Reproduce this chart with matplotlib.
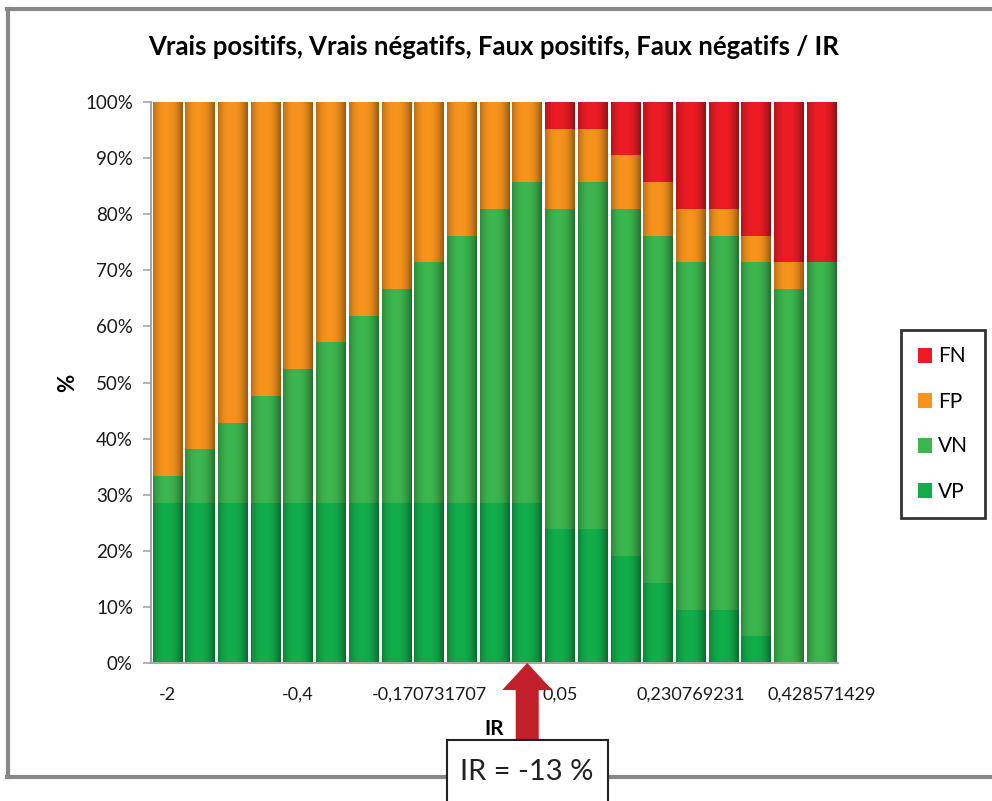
import numpy as np
import matplotlib
matplotlib.use("Agg")
import matplotlib.pyplot as plt
from matplotlib.patches import Patch, Rectangle, Polygon
from matplotlib.lines import Line2D
from matplotlib.colors import to_rgb

plt.rcParams['font.family'] = ['Lato', 'DejaVu Sans']

# ---- data (counts out of 21 cases per IR threshold) ----
vp = [6, 6, 6, 6, 6, 6, 6, 6, 6, 6, 6, 6, 5, 5, 4, 3, 2, 2, 1, 0, 0]
vn = [1, 2, 3, 4, 5, 6, 7, 8, 9, 10, 11, 12, 12, 13, 13, 13, 13, 14, 14, 14, 15]
fp = [14, 13, 12, 11, 10, 9, 8, 7, 6, 5, 4, 3, 3, 2, 2, 2, 2, 1, 1, 1, 0]
fn = [0, 0, 0, 0, 0, 0, 0, 0, 0, 0, 0, 0, 1, 1, 2, 3, 4, 4, 5, 6, 6]
tick_positions = [0, 4, 8, 12, 16, 20]
tick_labels = ['-2', '-0,4', '-0,170731707', '0,05', '0,230769231', '0,428571429']
series_names = ['VP', 'VN', 'FP', 'FN']
series_colors = ['#12ad4b', '#3cb64e', '#f7941d', '#ed1c24']
ir_index = 11
ir_text = 'IR = -13 %'

vp = np.array(vp, float); vn = np.array(vn, float)
fp = np.array(fp, float); fn = np.array(fn, float)
total = vp + vn + fp + fn
series = [vp / total * 100, vn / total * 100, fp / total * 100, fn / total * 100]

W, H = 992, 801
fig = plt.figure(figsize=(W / 100, H / 100), dpi=100)
ax = fig.add_axes([151 / W, (H - 663) / H, (838 - 151) / W, (663 - 102) / H])

x = np.arange(len(vp))
bottom = np.zeros(len(vp))
t = np.linspace(0, 1, 64)
shade = 1 - 0.40 * np.abs((t - 0.45) / 0.55) ** 2.4
shade = np.clip(shade, 0.6, 1.0)
for vals, col in zip(series, series_colors):
    bars = ax.bar(x, vals, width=0.9, bottom=bottom, color=col, linewidth=0, zorder=2)
    rgb = np.array(to_rgb(col))
    grad = np.clip(shade[:, None] * rgb[None, :], 0, 1)[None, :, :]
    for b in bars:
        if b.get_height() <= 0:
            continue
        bx, by = b.get_x(), b.get_y()
        ax.imshow(grad, extent=(bx, bx + b.get_width(), by, by + b.get_height()),
                  aspect='auto', interpolation='bilinear', zorder=3)
    bottom = bottom + vals
ax.set_xlim(-0.5, 20.5)
ax.set_ylim(0, 100)

for s in ['top', 'right']:
    ax.spines[s].set_visible(False)
for s in ['left', 'bottom']:
    ax.spines[s].set_color('#a6a6a6')
    ax.spines[s].set_linewidth(1.5)
    ax.spines[s].set_zorder(4)
ax.set_yticks(np.arange(0, 101, 10))
ax.set_yticklabels([f'{v}%' for v in range(0, 101, 10)])
ax.tick_params(axis='y', length=6, width=1.2, color='#a6a6a6', pad=7, labelsize=13.5, labelcolor='#1a1a1a')
ax.set_xticks(tick_positions)
ax.set_xticklabels(tick_labels)
ax.tick_params(axis='x', length=0, pad=17, labelsize=13, labelcolor='#1a1a1a')

ax.set_ylabel('%', fontsize=16, fontweight='bold', labelpad=5)
ax.set_xlabel('IR', fontsize=15, fontweight='bold', labelpad=12)

fig.text(494 / W, (H - 47) / H, 'Vrais positifs, Vrais négatifs, Faux positifs, Faux négatifs / IR',
         ha='center', va='center', fontsize=18.5, fontweight='bold')

# legend
handles = [Patch(facecolor=c, edgecolor='none') for c in series_colors][::-1]
leg = fig.legend(handles, series_names[::-1], loc='center', bbox_to_anchor=(943 / W, (H - 424) / H),
                 frameon=True, fancybox=False, fontsize=15, handlelength=0.7, handleheight=0.7,
                 handletextpad=0.3, labelspacing=1.2, borderpad=0.8, borderaxespad=0)
leg.get_frame().set_edgecolor('black')
leg.get_frame().set_linewidth(2)

# outer border
bc = '#888888'
fig.add_artist(Line2D([8 / W, 8 / W], [(H - 777) / H, (H - 9) / H], color=bc, lw=3, transform=fig.transFigure))
fig.add_artist(Line2D([6.5 / W, 1.0], [(H - 9) / H, (H - 9) / H], color=bc, lw=3, transform=fig.transFigure))
fig.add_artist(Line2D([6.5 / W, 1.0], [(H - 777) / H, (H - 777) / H], color=bc, lw=3, transform=fig.transFigure))

# arrow pointing at chosen IR bar
px_per_x = (838 - 151) / 21
px_per_y = (663 - 102) / 100
sw = 11.5 / px_per_x
hw = 25 / px_per_x
hh = 27 / px_per_y
y0 = -77 / px_per_y
arrow = Polygon([[ir_index - sw, y0], [ir_index - sw, -hh], [ir_index - hw, -hh], [ir_index, 0],
                 [ir_index + hw, -hh], [ir_index + sw, -hh], [ir_index + sw, y0]],
                closed=True, facecolor='#c1202a', edgecolor='none', clip_on=False, zorder=5)
ax.add_patch(arrow)

# IR box
fig.add_artist(Rectangle((447 / W, -0.02), (608 - 447) / W, (H - 740) / H + 0.02,
                         facecolor='white', edgecolor='#222222', lw=1.5, transform=fig.transFigure, zorder=6))
fig.text(527 / W, (H - 772) / H, ir_text, ha='center', va='center', fontsize=21, color='#222222', zorder=7)

fig.savefig('out.png', dpi=100)
